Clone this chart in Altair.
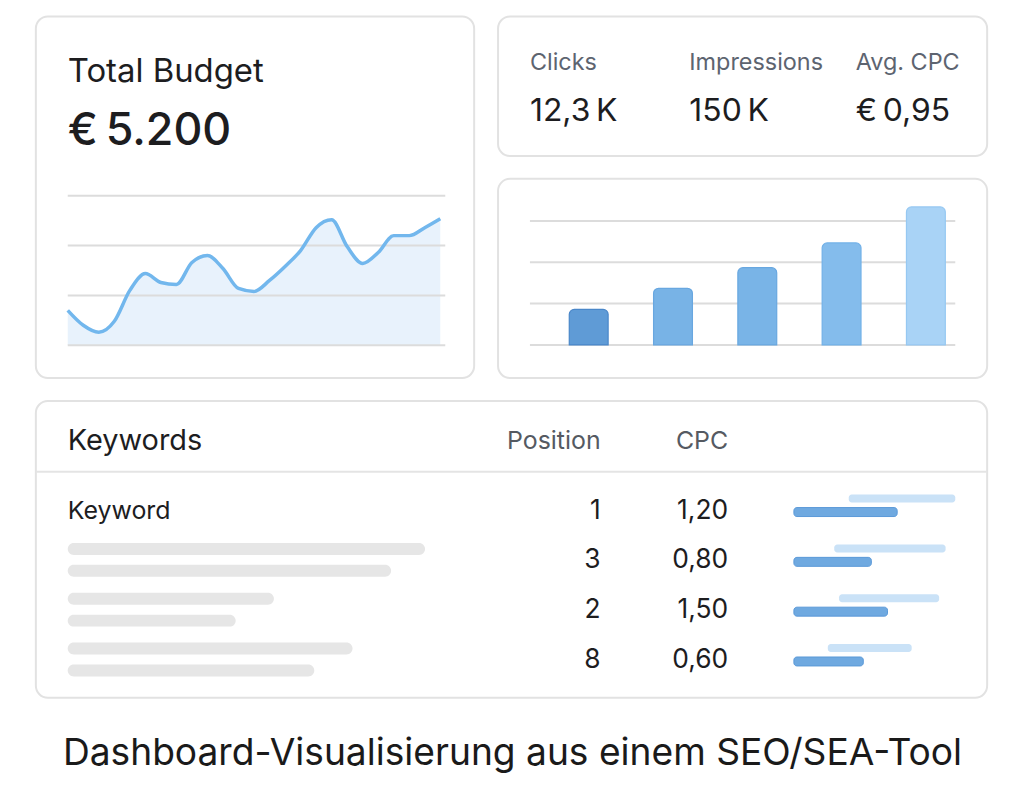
import altair as alt
import pandas as pd

# ---------------- data ----------------
budget_days = list(range(25))
budget_values = [70, 40, 26, 48, 110, 144, 126, 122, 166, 180, 154, 114, 108,
                 130, 158, 190, 236, 252, 198, 164, 186, 220, 220, 236, 254]
budget_grid = [0, 100, 200, 300]
budget_title = "Total Budget"
budget_total = "€\u20095.200"

metric_labels = ["Clicks", "Impressions", "Avg. CPC"]
metric_values = ["12,3\u2009K", "150\u2009K", "€\u20090,95"]

bar_periods = ["P1", "P2", "P3", "P4", "P5"]
bar_values = [860, 1370, 1870, 2470, 3340]
bar_grid = [0, 1000, 2000, 3000]

kw_headers = ["Keywords", "Position", "CPC"]
kw_first = "Keyword"
kw_positions = ["1", "3", "2", "8"]
kw_cpc = ["1,20", "0,80", "1,50", "0,60"]
share_light_start = [34, 25, 28, 21]
share_light_end = [100, 94, 90, 73]
share_dark_end = [64, 48, 58, 43]
skeleton_row = [1, 1, 2, 2, 3, 3]
skeleton_line = [0, 1, 0, 1, 0, 1]
skeleton_len = [100, 90.5, 57.7, 47, 79.7, 69]

chart_title = "Dashboard-Visualisierung aus einem SEO/SEA-Tool"

# ---------------- styles ----------------
FONT = "Inter"
DARK = "#1d1d1f"
GREY = "#5d6470"
GRID = "#dcdcdc"
BAR_FILLS = ["#5f9bd6", "#78b3e6", "#79b4e7", "#84bcec", "#a9d3f6"]
BAR_STROKES = ["#4a87c9", "#68a7e0", "#68a7e0", "#72b1e8", "#96c8f2"]
METRIC_X = [32, 192, 359]


def txt(text, x, y, size, color, weight="normal", align="left", font=FONT):
    return alt.Chart(pd.DataFrame({"t": [text]})).mark_text(
        align=align, baseline="alphabetic", fontSize=size, font=font,
        fontWeight=weight, color=color
    ).encode(x=alt.value(x), y=alt.value(y), text="t:N")


# ---------------- card 1: budget ----------------
budget_df = pd.DataFrame({"day": budget_days, "spend": budget_values})
bgrid_df = pd.DataFrame({"g": budget_grid})
bx = alt.Scale(domain=[0, 24], range=[32, 406], nice=False, zero=False, padding=0)
by = alt.Scale(domain=[0, 300], range=[330, 180], nice=False, padding=0)

b_area = alt.Chart(budget_df).mark_area(interpolate="monotone", color="#e8f2fc").encode(
    x=alt.X("day:Q", scale=bx, axis=None),
    y=alt.Y("spend:Q", scale=by, axis=None),
)
b_grid = alt.Chart(bgrid_df).mark_rule(color=GRID, strokeWidth=2).encode(
    x=alt.value(32), x2=alt.value(411),
    y=alt.Y("g:Q", scale=by, axis=None),
)
b_line = alt.Chart(budget_df).mark_line(interpolate="monotone", color="#72b7ed",
                                        strokeWidth=3.5).encode(
    x=alt.X("day:Q", scale=bx, axis=None),
    y=alt.Y("spend:Q", scale=by, axis=None),
)
left = alt.layer(
    b_area, b_grid, b_line,
    txt(budget_title, 32, 66, 33, DARK),
    txt(budget_total, 32, 129, 45, DARK, weight=500),
).properties(width=440, height=363)

# ---------------- card 2: metrics ----------------
m_layers = []
for i, (lbl, val) in enumerate(zip(metric_labels, metric_values)):
    m_layers.append(txt(lbl, METRIC_X[i], 54, 23.5, GREY))
    m_layers.append(txt(val, METRIC_X[i], 105, 32, DARK))
metrics = alt.layer(*m_layers).properties(width=491, height=140)

# ---------------- card 3: bars ----------------
bars_df = pd.DataFrame({"period": bar_periods, "idx": list(range(len(bar_periods))),
                        "value": bar_values})
ggrid_df = pd.DataFrame({"g": bar_grid})
gx = alt.Scale(domain=[0, 4], range=[91, 429.5], nice=False, zero=False, padding=0)
gy = alt.Scale(domain=[0, 3000], range=[166.7, 42.3], nice=False, padding=0)

g_grid = alt.Chart(ggrid_df).mark_rule(color=GRID, strokeWidth=2).encode(
    x=alt.value(32), x2=alt.value(459),
    y=alt.Y("g:Q", scale=gy, axis=None),
)
g_bars = alt.Chart(bars_df).mark_bar(
    size=39, orient="vertical", cornerRadiusTopLeft=5, cornerRadiusTopRight=5,
    strokeWidth=1.2
).encode(
    x=alt.X("idx:Q", scale=gx, axis=None),
    y=alt.Y("value:Q", scale=gy, axis=None, stack=None),
    fill=alt.Fill("period:N", scale=alt.Scale(domain=bar_periods, range=BAR_FILLS), legend=None),
    stroke=alt.Stroke("period:N", scale=alt.Scale(domain=bar_periods, range=BAR_STROKES), legend=None),
)
barcard = alt.layer(g_grid, g_bars).properties(width=491, height=200)

# ---------------- card 4: keyword table ----------------
rows_df = pd.DataFrame({
    "row": list(range(len(kw_positions))),
    "pos": kw_positions, "cpc": kw_cpc,
    "ls": share_light_start, "le": share_light_end,
    "ds": [0] * len(kw_positions), "de": share_dark_end,
})
skel_df = pd.DataFrame({"row": skeleton_row, "line": skeleton_line,
                        "s0": [0] * len(skeleton_len), "len": skeleton_len})
ry = alt.Scale(domain=[0, 3], range=[118, 268], nice=False, zero=False, padding=0)
sx = alt.Scale(domain=[0, 100], range=[32, 390.7], nice=False, zero=False, padding=0)
mx = alt.Scale(domain=[0, 100], range=[761, 923], nice=False, zero=False, padding=0)

sep = alt.Chart(pd.DataFrame({"a": [0]})).mark_rule(color="#e4e4e4", strokeWidth=2).encode(
    x=alt.value(0), x2=alt.value(955), y=alt.value(71))

skel_layers = []
for ln, off in [(0, -19.5), (1, 2.5)]:
    skel_layers.append(
        alt.Chart(skel_df).transform_filter(alt.datum.line == ln).mark_bar(
            size=12, cornerRadius=6, color="#e6e6e6", orient="horizontal", yOffset=off
        ).encode(
            x=alt.X("s0:Q", scale=sx, axis=None), x2="len:Q",
            y=alt.Y("row:Q", scale=ry, axis=None),
        )
    )

pos_txt = alt.Chart(rows_df).mark_text(align="right", baseline="alphabetic", fontSize=26.5,
                                       font=FONT, color=DARK).encode(
    x=alt.value(567), y=alt.Y("row:Q", scale=ry, axis=None), text="pos:N")
cpc_txt = alt.Chart(rows_df).mark_text(align="right", baseline="alphabetic", fontSize=26.5,
                                       font=FONT, color=DARK).encode(
    x=alt.value(695), y=alt.Y("row:Q", scale=ry, axis=None), text="cpc:N")
light = alt.Chart(rows_df).mark_bar(size=8, cornerRadius=3, color="#cae2f7",
                                    orient="horizontal", yOffset=-20).encode(
    x=alt.X("ls:Q", scale=mx, axis=None), x2="le:Q",
    y=alt.Y("row:Q", scale=ry, axis=None))
dark = alt.Chart(rows_df).mark_bar(size=9, cornerRadius=3, color="#6fa9e0", stroke="#5a99d8",
                                   strokeWidth=1, orient="horizontal", yOffset=-6.5).encode(
    x=alt.X("ds:Q", scale=mx, axis=None), x2="de:Q",
    y=alt.Y("row:Q", scale=ry, axis=None))

table = alt.layer(
    sep,
    txt(kw_headers[0], 32, 49, 29, DARK),
    txt(kw_headers[1], 567, 48, 25, "#555a62", align="right"),
    txt(kw_headers[2], 695, 48, 25, "#555a62", align="right"),
    txt(kw_first, 32, 118, 25, DARK),
    *skel_layers, pos_txt, cpc_txt, light, dark,
).resolve_scale(x="independent").properties(width=955, height=298)

# ---------------- assemble ----------------
# (card strokes add 1px on each side of every panel's bounds, so spacings are 2px smaller)
top = alt.hconcat(left, alt.vconcat(metrics, barcard, spacing=21), spacing=22)
chart = alt.vconcat(top, table, spacing=21).properties(
    title=alt.TitleParams(
        text=chart_title, orient="bottom", anchor="middle", font=FONT,
        fontSize=37.3, fontWeight="normal", color="#1a1a1a", offset=66,
        baseline="alphabetic", dx=1
    ),
    padding={"left": 34, "top": 14, "right": 35, "bottom": 20},
    background="white",
).configure_view(
    stroke="#e2e2e2", strokeWidth=2, cornerRadius=12, fill="white"
)

chart.save("out.html", embed_options={"renderer": "svg", "actions": False})
